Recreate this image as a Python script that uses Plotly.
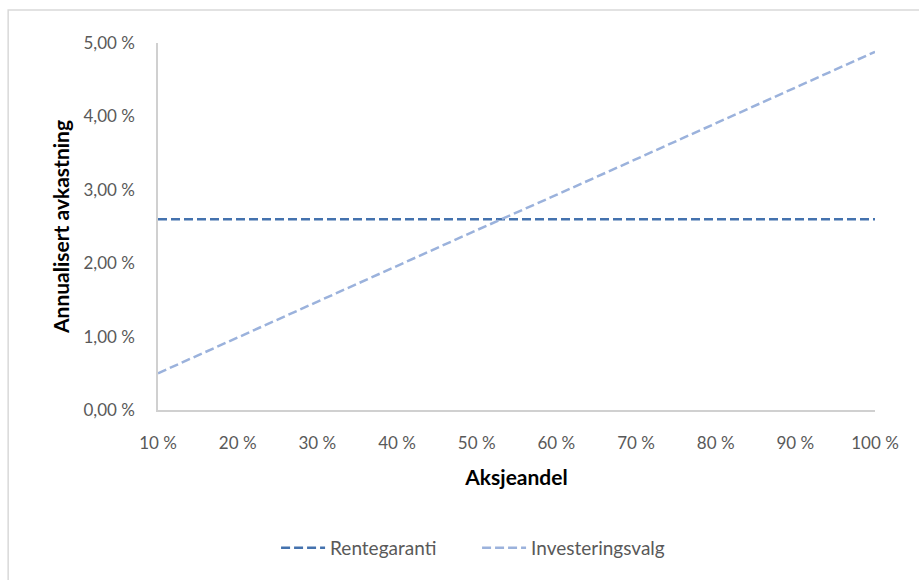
import plotly.graph_objects as go

aksjeandel = [10, 20, 30, 40, 50, 60, 70, 80, 90, 100]
x_labels = ["10 %", "20 %", "30 %", "40 %", "50 %", "60 %", "70 %", "80 %", "90 %", "100 %"]
rentegaranti = [2.6, 2.6, 2.6, 2.6, 2.6, 2.6, 2.6, 2.6, 2.6, 2.6]
investeringsvalg = [0.50, 0.99, 1.47, 1.96, 2.45, 2.93, 3.42, 3.91, 4.40, 4.88]
y_ticks = [0, 1, 2, 3, 4, 5]
y_labels = ["0,00 %", "1,00 %", "2,00 %", "3,00 %", "4,00 %", "5,00 %"]

FONT = "Lato, 'Open Sans', sans-serif"
GRAY = "#595959"

fig = go.Figure()
fig.add_trace(go.Scatter(
    x=aksjeandel, y=rentegaranti, mode="lines", name="Rentegaranti",
    line=dict(color="#4472AE", width=2.5, dash="9px,4px"),
))
fig.add_trace(go.Scatter(
    x=aksjeandel, y=investeringsvalg, mode="lines", name="Investeringsvalg",
    line=dict(color="#9BB2DC", width=2.5, dash="9px,4px"),
))

fig.update_layout(
    width=919, height=580,
    margin=dict(l=158, r=44, t=43, b=170),
    paper_bgcolor="white", plot_bgcolor="white",
    font=dict(family=FONT, size=17, color=GRAY),
    showlegend=True,
    legend=dict(orientation="h", x=0.445, xanchor="center", y=-0.376, yanchor="middle",
                font=dict(family=FONT, size=19, color=GRAY), itemwidth=44,
                entrywidth=142, entrywidthmode="pixels",
                traceorder="normal"),
    xaxis=dict(
        range=[10, 100], tickvals=aksjeandel, ticktext=x_labels,
        showgrid=False, zeroline=False, showline=True, linecolor="#D0D0D0", linewidth=1.5,
        ticks="", ticklabelstandoff=17,
        tickfont=dict(family=FONT, size=17, color=GRAY),
        title=dict(text="<b>Aksjeandel</b>", font=dict(family=FONT, size=21, color="black"), standoff=18),
    ),
    yaxis=dict(
        range=[0, 5], tickvals=y_ticks, ticktext=y_labels,
        showgrid=False, zeroline=False, showline=True, linecolor="#D0D0D0", linewidth=1.5,
        ticks="", ticklabelstandoff=18,
        tickfont=dict(family=FONT, size=17, color=GRAY),
        title=dict(text="<b>Annualisert avkastning</b>", font=dict(family=FONT, size=21, color="black"), standoff=8),
    ),
    shapes=[dict(type="rect", xref="paper", yref="paper",
                 x0=-0.209, x1=1.2, y0=-0.6, y1=1.0899,
                 line=dict(color="#D9D9D9", width=1.5), fillcolor="rgba(0,0,0,0)", layer="below")],
)

fig.write_html("out.html")
